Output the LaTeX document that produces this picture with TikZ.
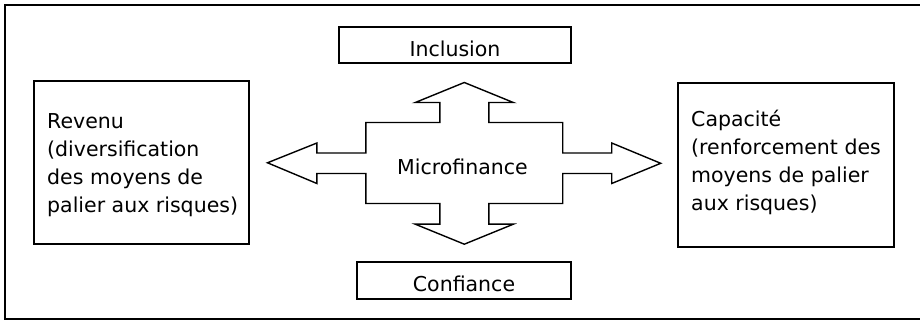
\documentclass[tikz,border=0pt]{standalone}
\usepackage{fontspec}
\setmainfont{DejaVu Sans}
\begin{document}
\begin{tikzpicture}[x=1pt,y=-1pt,line join=miter,
  box/.style={draw,line width=1.4pt,rectangle,inner sep=0pt},
  lbl/.style={font=\fontsize{20.5}{28}\selectfont,inner sep=0pt,anchor=base west,align=left},
  ctr/.style={font=\fontsize{20.5}{28}\selectfont,inner sep=0pt,anchor=base}]
\useasboundingbox (0,0) rectangle (920,320);
\draw[line width=2pt] (5,5) rectangle (930,318.5);
% boxes
\node[box,minimum width=232pt,minimum height=36pt] (incl) at (455,45) {};
\node[ctr] (inclT) at (455,57) {Inclusion};
\node[box,minimum width=214pt,minimum height=37pt] (conf) at (464,280.5) {};
\node[ctr] (confT) at (464,291) {Confiance};
\node[box,minimum width=215pt,minimum height=163pt] (rev) at (141.5,162.5) {};
\node[lbl] (revT) at (47,213) {Revenu\\(diversification\\des moyens de\\palier aux risques)};
\node[box,minimum width=216pt,minimum height=164pt] (cap) at (786,165) {};
\node[lbl] (capT) at (691,211) {Capacité\\(renforcement des\\moyens de palier\\aux risques)};
% central cross arrow
\coordinate (c) at (464.3,164);
\draw[line width=1.4pt] (c)
  ++(0,-81.5) -- ++(49,20) -- ++(-24.5,0) -- ++(0,20) -- ++(73.9,0)
  -- ++(0,30.5) -- ++(49,0) -- ++(0,-10) -- ++(49,20.3) -- ++(-49,20.2) -- ++(0,-10)
  -- ++(-49,0) -- ++(0,30) -- ++(-73.9,0) -- ++(0,20.7) -- ++(24.5,0) -- ++(-49,20)
  -- ++(-49,-20) -- ++(24.5,0) -- ++(0,-20.7) -- ++(-73.9,0) -- ++(0,-30)
  -- ++(-49,0) -- ++(0,10) -- ++(-49.4,-20.7) -- ++(49.4,-19.8) -- ++(0,10)
  -- ++(49,0) -- ++(0,-30.5) -- ++(73.9,0) -- ++(0,-20) -- ++(-24.5,0) -- cycle;
\node[ctr] (mf) at (462.5,175) {Microfinance};
\end{tikzpicture}
\end{document}
